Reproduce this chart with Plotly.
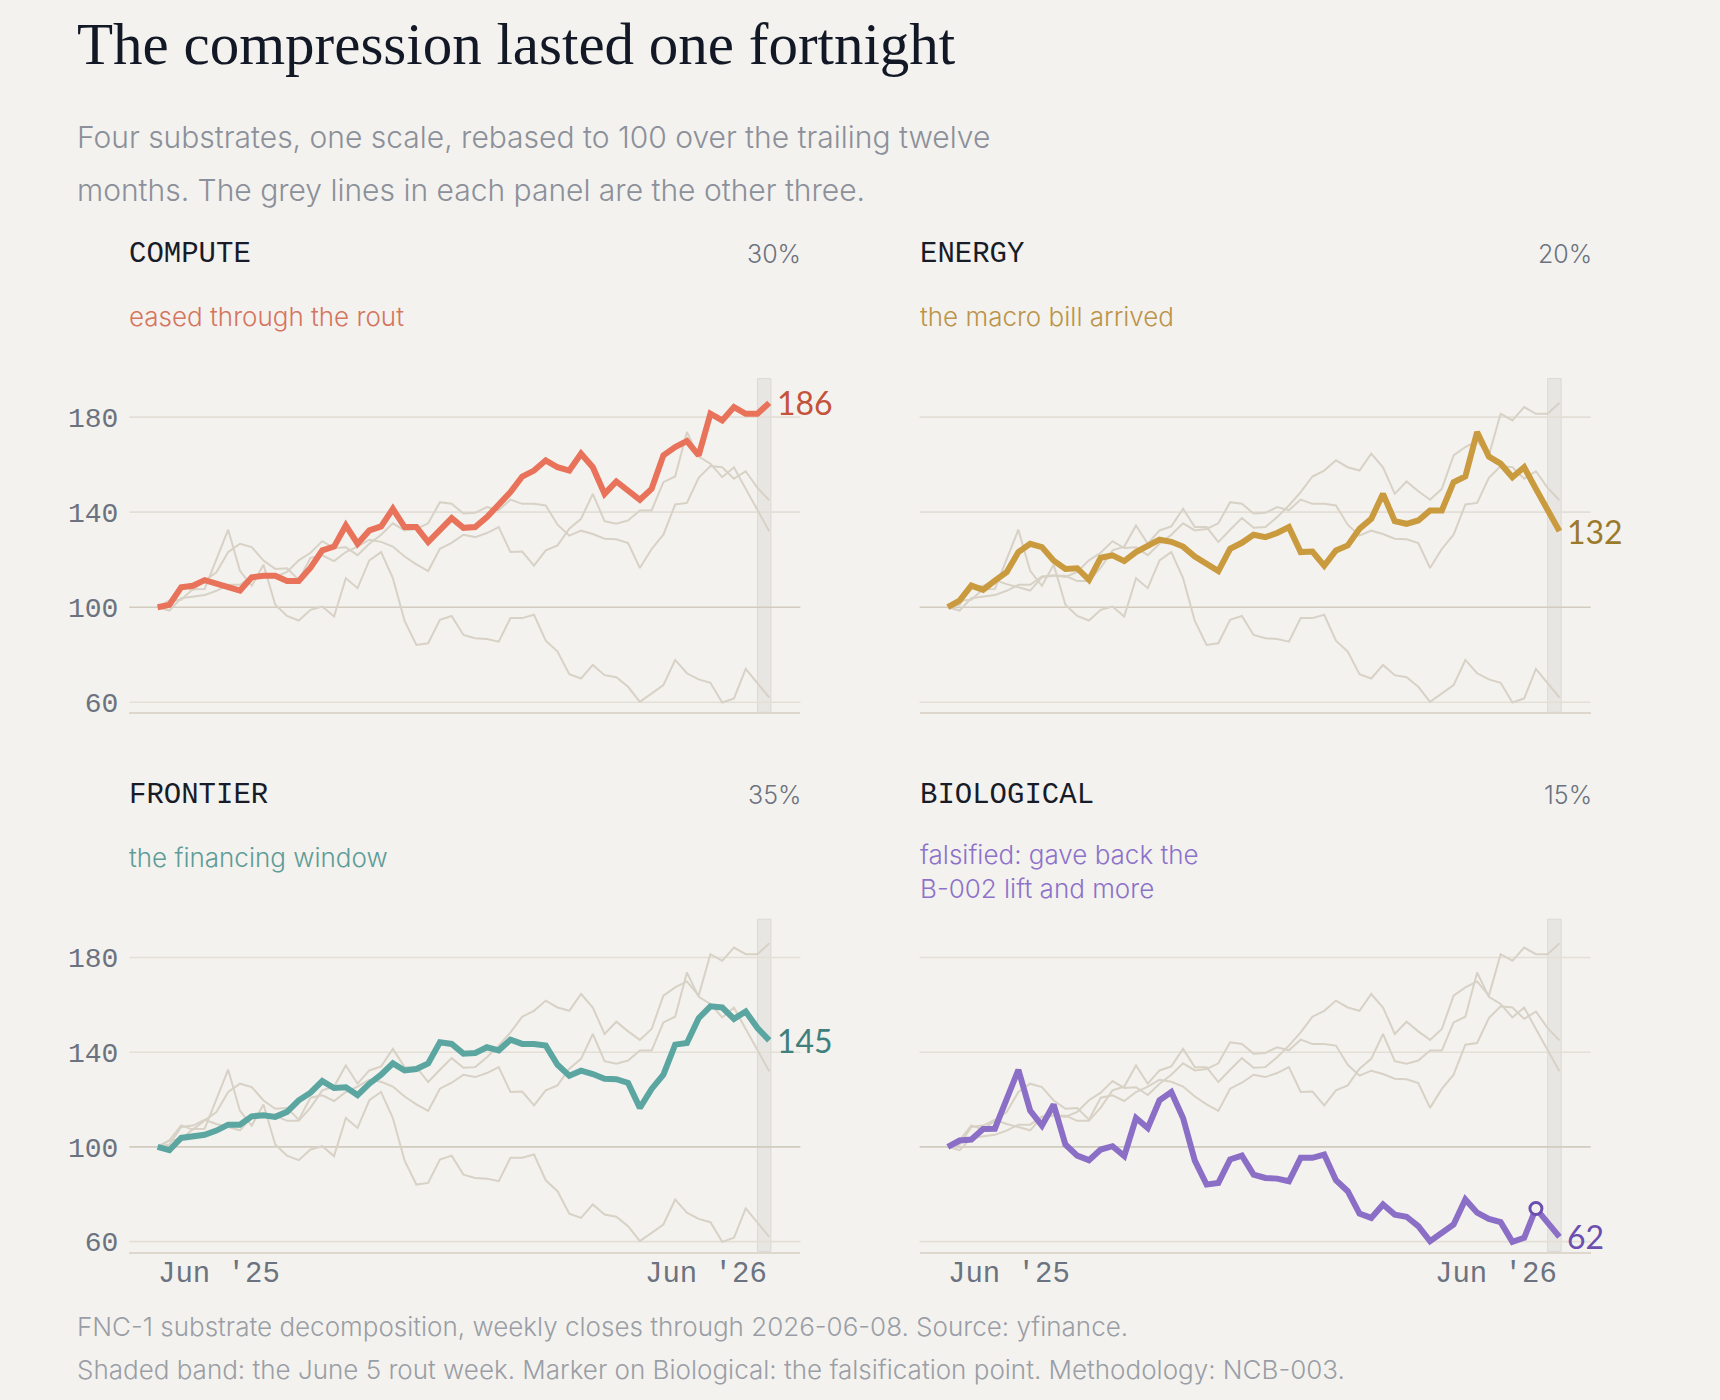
import pandas as pd
import plotly.graph_objects as go

W, H = 1720, 1400

# ---------------- data ----------------
dates = pd.date_range("2025-06-09", "2026-06-08", freq="7D")  # 53 weekly closes

compute = [100, 101, 108.4, 109, 111.4, 109.7, 108.4, 107, 112.6, 113.2,
           113.2, 111, 111, 116.6, 123.9, 125.5, 134.4, 126.7, 132.3, 134,
           141.4, 133.7, 133.7, 127.4, 132.6, 137.5, 133.4, 133.7, 137.9, 142.8,
           148.4, 155, 157.5, 161.8, 158.9, 157.5, 164.6, 158.9, 147.7, 152.9,
           148.8, 145.2, 149.8, 163.9, 167.4, 169.9, 163.9, 181.4, 178.6, 184.2,
           181.4, 181.4, 186]
energy = [100, 102.8, 109.1, 107.3, 111.2, 114.7, 123.2, 126.7, 125.3, 119.6,
          116.1, 116.4, 111.5, 120.8, 121.8, 119.4, 123.2, 125.5, 128.4, 127.5,
          125.5, 121.3, 118.0, 115.2, 124.6, 127.1, 130.5, 129.5, 131.2, 133.7,
          123.2, 123.4, 117.5, 123.9, 126.0, 133.0, 137.2, 147.7, 136.2, 135.1,
          136.5, 140.7, 140.7, 152.6, 155.0, 173.7, 163.4, 160.4, 154.7, 158.9,
          149.8, 140.7, 132]
frontier = [100, 98.6, 103.8, 104.4, 105.1, 106.9, 109.4, 109.4, 112.9, 113.4,
            112.7, 114.8, 119.7, 122.9, 127.8, 124.9, 125.2, 121.9, 126.7, 130.5,
            135.3, 132.3, 132.9, 135.3, 144.2, 143.5, 139.4, 139.7, 142.1, 140.8,
            145.3, 143.5, 143.5, 142.8, 134.7, 130.1, 132.2, 130.8, 128.8, 128.6,
            127.0, 116.5, 124.5, 130.5, 143.2, 143.9, 154.4, 159.4, 158.9, 154.1,
            157.2, 150.2, 145]
biological = [100, 102.7, 103.1, 107.6, 107.7, 120.0, 132.6, 115.3, 109.0, 117.9,
              101.0, 96.3, 94.4, 98.9, 100.3, 96.1, 112.2, 108.0, 119.7, 123.2,
              112.2, 94.2, 84.1, 84.8, 94.7, 96.3, 88.3, 86.9, 86.6, 85.5,
              95.4, 95.4, 96.8, 85.9, 81.3, 71.8, 70.0, 75.7, 71.4, 70.5,
              66.5, 60.2, 63.7, 67.2, 77.8, 72.2, 69.6, 68.2, 59.9, 61.6,
              74.0, 67.9, 62]

names = ["COMPUTE", "ENERGY", "FRONTIER", "BIOLOGICAL"]
weights = ["30%", "20%", "35%", "15%"]
notes = [["eased through the rout"], ["the macro bill arrived"],
         ["the financing window"], ["falsified: gave back the", "B-002 lift and more"]]
y_ticks = [60, 100, 140, 180]
baseline_value = 100
band_dates = ["2026-06-01", "2026-06-09"]
falsify_date = "2026-05-25"

title = "The compression lasted one fortnight"
subtitle = ["Four substrates, one scale, rebased to 100 over the trailing twelve",
            "months. The grey lines in each panel are the other three."]
footnotes = ["FNC-1 substrate decomposition, weekly closes through 2026-06-08. Source: yfinance.",
             "Shaded band: the June 5 rout week. Marker on Biological: the falsification point. Methodology: NCB-003."]

# ---------------- style ----------------
BG = "#f4f2ee"
colors = ["#e8735a", "#c99a3e", "#5ba6a1", "#8b6fc7"]
label_colors = ["#c4533b", "#9c7a2c", "#3f807c", "#6a4fb0"]
note_colors = ["#d4755f", "#bb944a", "#5e9c98", "#8d72ca"]
GREY = "#d8d1c6"
GRID = "#e3ded6"
GRID100 = "#d2cbc0"
MONO = "Liberation Mono, DejaVu Sans Mono, monospace"
SANS = "Inter, Lato, sans-serif"
SERIF = "Liberation Serif, DejaVu Serif, serif"

YS = 1.0065  # vertical layout correction
col_x = [(129.4, 800.4), (919.6, 1590.6)]
row_y = [(378.3, 711.7), (918.5, 1250.6)]
x_range = ["2025-05-23 05:00", "2026-06-26 13:00"]
y_range = [55.8, 196.2]

series = [compute, energy, frontier, biological]

fig = go.Figure()
annotations = []
shapes = []


def px(x):
    return x / W


def py(y):
    return 1 - y * YS / H


for k in range(4):
    r, c = divmod(k, 2)
    s = "" if k == 0 else str(k + 1)
    xa, ya = f"x{s}", f"y{s}"
    x0, x1 = col_x[c]
    yt, yb = row_y[r]

    for j in range(4):
        if j == k:
            continue
        fig.add_trace(go.Scatter(x=dates, y=series[j], mode="lines",
                                 line=dict(color=GREY, width=2),
                                 xaxis=xa, yaxis=ya, hoverinfo="skip", showlegend=False))
    fig.add_trace(go.Scatter(x=dates, y=series[k], mode="lines",
                             line=dict(color=colors[k], width=6),
                             xaxis=xa, yaxis=ya, hoverinfo="skip", showlegend=False))
    if names[k] == "BIOLOGICAL":
        fi = list(dates).index(pd.Timestamp(falsify_date))
        fig.add_trace(go.Scatter(x=[dates[fi]], y=[series[k][fi]], mode="markers",
                                 marker=dict(symbol="circle", size=12, color=BG,
                                             line=dict(color=label_colors[k], width=3)),
                                 xaxis=xa, yaxis=ya, hoverinfo="skip", showlegend=False))

    fig.update_layout(**{
        f"xaxis{s}": dict(domain=[px(x0), px(x1)], anchor=ya, range=x_range,
                          type="date", showgrid=False, showticklabels=False,
                          showline=True, linecolor="#ddd7ce", linewidth=2,
                          ticks="", zeroline=False, fixedrange=True),
        f"yaxis{s}": dict(domain=[py(yb), py(yt)], anchor=xa, range=y_range,
                          tickvals=y_ticks, showgrid=False,
                          showticklabels=(c == 0), ticks="", zeroline=False,
                          showline=False, ticklabelstandoff=10,
                          tickfont=dict(family=MONO, size=28, color="#6b7280"),
                          fixedrange=True),
    })

    # shaded rout week
    shapes.append(dict(type="rect", xref=xa, yref=f"{ya} domain",
                       x0=band_dates[0], x1=band_dates[1], y0=0, y1=1,
                       fillcolor="#e8e6e3", line=dict(color="#dcd9d4", width=1),
                       layer="below"))
    # gridlines (100 baseline darker)
    for v in y_ticks:
        shapes.append(dict(type="line", xref=f"{xa} domain", yref=ya,
                           x0=0, x1=1, y0=v, y1=v,
                           line=dict(color=GRID100 if v == baseline_value else GRID,
                                     width=1.6),
                           layer="below"))

    # headers
    annotations.append(dict(text=names[k], xref="paper", yref="paper",
                            x=px(x0), y=py(yt - 124), xanchor="left", yanchor="middle",
                            xshift=-2, showarrow=False,
                            font=dict(family=MONO, size=29, color="#171c28")))
    annotations.append(dict(text=weights[k], xref="paper", yref="paper",
                            x=px(x1), y=py(yt - 124), xanchor="right", yanchor="middle",
                            xshift=3, showarrow=False,
                            font=dict(family=SANS, size=25, color="#6b7280", weight=300)))
    n_lines = len(notes[k])
    annotations.append(dict(text="<br>".join(notes[k]), xref="paper", yref="paper",
                            x=px(x0), y=py(yt - 62 + (n_lines - 1) * 14), xanchor="left",
                            yanchor="middle", align="left", xshift=-2, showarrow=False,
                            font=dict(family=SANS, size=26, color=note_colors[k],
                                      weight=300)))
    # end label
    annotations.append(dict(text=f"{series[k][-1]:.0f}", xref=xa, yref=ya,
                            x=dates[-1], y=series[k][-1], xanchor="left", yanchor="middle",
                            xshift=6, showarrow=False,
                            font=dict(family="Lato, sans-serif", size=32,
                                      color=label_colors[k])))
    # date labels on bottom row
    if r == 1:
        annotations.append(dict(text=dates[0].strftime("%b '%y"), xref=xa, yref="paper",
                                x=dates[0], y=py(yb + 23), xanchor="left", yanchor="middle",
                                xshift=-2, showarrow=False,
                                font=dict(family=MONO, size=29, color="#6b7280")))
        annotations.append(dict(text=dates[-1].strftime("%b '%y"), xref=xa, yref="paper",
                                x=dates[-1], y=py(yb + 23), xanchor="right", yanchor="middle",
                                showarrow=False,
                                font=dict(family=MONO, size=29, color="#6b7280")))

annotations.append(dict(text=title, xref="paper", yref="paper", x=px(75), y=py(44),
                        xanchor="left", yanchor="middle", showarrow=False,
                        font=dict(family=SERIF, size=59, color="#131826")))
for i, line in enumerate(subtitle):
    annotations.append(dict(text=line, xref="paper", yref="paper", x=px(75), y=py(137 + 53 * i),
                            xanchor="left", yanchor="middle", showarrow=False,
                            font=dict(family=SANS, size=30, color="#8b909a", weight=300)))
for i, line in enumerate(footnotes):
    annotations.append(dict(text=line, xref="paper", yref="paper", x=px(75), y=py(1326 + 42 * i),
                            xanchor="left", yanchor="middle", showarrow=False,
                            font=dict(family=SANS, size=26, color="#9a9ea6", weight=300)))

fig.update_layout(width=W, height=H, margin=dict(l=0, r=0, t=0, b=0),
                  paper_bgcolor=BG, plot_bgcolor=BG, showlegend=False,
                  annotations=annotations, shapes=shapes)

fig.write_html("out.html", config={"displayModeBar": False})
